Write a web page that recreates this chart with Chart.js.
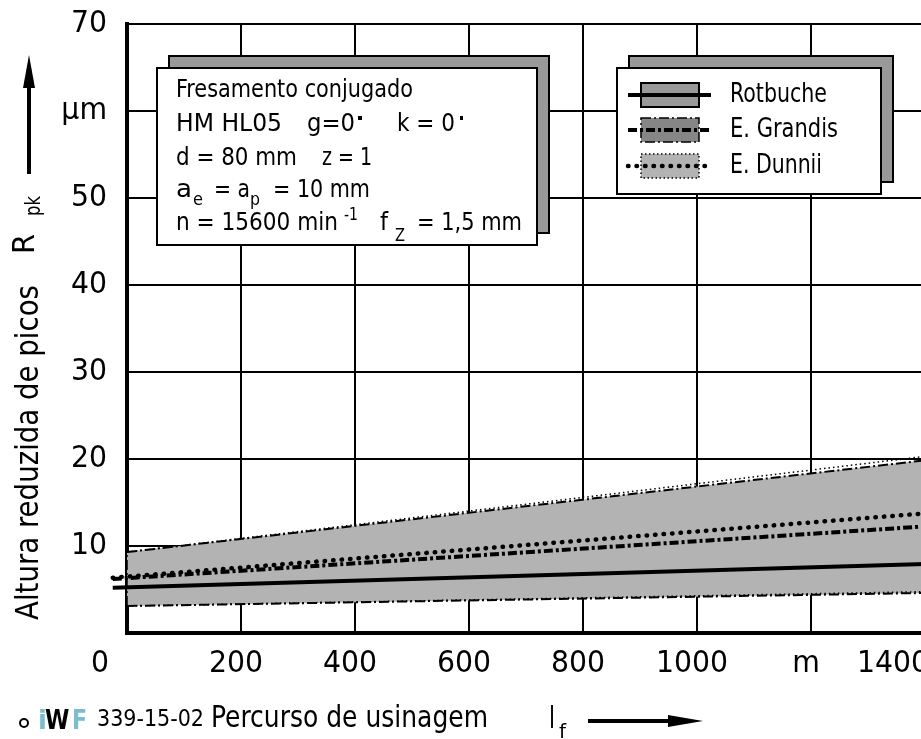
<!DOCTYPE html>
<html>
<head>
<meta charset="utf-8">
<script src="https://cdn.jsdelivr.net/npm/chart.js@4.4.0/dist/chart.umd.min.js"></script>
<style>
  html, body { margin:0; padding:0; background:#fff; overflow:hidden; }
  #wrap { position:relative; width:930px; height:739px; }
</style>
</head>
<body>
<div id="wrap"><canvas id="chart" width="930" height="739"></canvas></div>
<script>
// Rpk over machining path, mean lines and scatter band
const pathX       = [-25, 1400];          // m
const rotbuche    = [5.2, 7.92];          // µm
const grandis     = [6.2, 12.25];
const dunnii      = [6.35, 13.75];

const bandX       = [0, 1400];
const bandUpper   = [9.3, 19.85];
const bandLower   = [3.1, 4.6];
const dunniiUpper = [9.3, 20.3];
const dunniiLower = [3.1, 4.75];

const yTicks      = [10, 20, 30, 40, 50, 60, 70];
const yTickLabels = ['10', '20', '30', '40', '50', 'µm', '70'];
const xTicks      = [0, 200, 400, 600, 800, 1000, 1200, 1400];
const xTickLabels = ['0', '200', '400', '600', '800', '1000', 'm', '1400'];
const legendLabels = ['Rotbuche', 'E. Grandis', 'E. Dunnii'];

const FONT = '"Liberation Sans Narrow", "DejaVu Sans Condensed", sans-serif';
const DASHDOT = [9, 3, 3, 3];
const THIN_DASHDOT = [10, 3, 2, 3];
const DOTS = [0.5, 8];

const pts = (xs, ys) => xs.map((x, i) => ({ x, y: ys[i] }));

function txt(ctx, s, x, y, size, o = {}) {
  ctx.save();
  ctx.font = size + 'px ' + FONT;
  ctx.textBaseline = 'middle';
  ctx.textAlign = o.align || 'left';
  ctx.fillStyle = o.color || '#000';
  const w = ctx.measureText(s).width;
  const sx = o.w ? o.w / w : (o.sx || 1);
  ctx.translate(x, y);
  ctx.scale(sx, 1);
  ctx.fillText(s, 0, 0);
  ctx.restore();
}

function shadowBox(ctx, x, y, w, h) {
  ctx.save();
  ctx.lineWidth = 2;
  ctx.strokeStyle = '#000';
  ctx.fillStyle = '#999';
  ctx.fillRect(x + 12, y - 12, w, h);
  ctx.strokeRect(x + 12, y - 12, w, h);
  ctx.fillStyle = '#fff';
  ctx.fillRect(x, y, w, h);
  ctx.strokeRect(x, y, w, h);
  ctx.restore();
}

function seg(ctx, x1, y1, x2, y2, width, dash, cap) {
  ctx.save();
  ctx.beginPath();
  ctx.lineWidth = width;
  ctx.setLineDash(dash || []);
  ctx.lineCap = cap || 'butt';
  ctx.moveTo(x1, y1);
  ctx.lineTo(x2, y2);
  ctx.stroke();
  ctx.restore();
}

const decor = {
  id: 'decor',
  afterDraw(chart) {
    const { ctx, scales: { x, y }, chartArea: ca } = chart;
    ctx.save();
    ctx.fillStyle = '#000';
    ctx.strokeStyle = '#000';

    // y tick labels
    yTicks.forEach((v, i) => txt(ctx, yTickLabels[i], ca.left - 20, y.getPixelForValue(v), 30, { align: 'right', sx: 1.05 }));

    // x tick labels
    xTicks.forEach((v, i) => {
      let px = x.getPixelForValue(v) - 5;
      if (i === 0) px = ca.left - 27;
      if (i === xTicks.length - 1) px = 893;
      txt(ctx, xTickLabels[i], px, ca.bottom + 31, 30, { align: 'center', sx: 1.05 });
    });

    // y axis title
    ctx.save();
    ctx.translate(30, 620);
    ctx.rotate(-Math.PI / 2);
    txt(ctx, 'Altura reduzida de picos', 0, 0, 32, { w: 335 });
    txt(ctx, 'R', 366, -4, 30, { w: 20 });
    txt(ctx, 'pk', 404, 4, 22, { w: 20 });
    ctx.restore();
    seg(ctx, 29, 174, 29, 80, 4);
    ctx.beginPath();
    ctx.moveTo(29, 55); ctx.lineTo(35, 88); ctx.lineTo(23, 88); ctx.closePath(); ctx.fill();

    // x axis title and footer
    ctx.beginPath();
    ctx.lineWidth = 2;
    ctx.arc(24, 723, 4, 0, Math.PI * 2);
    ctx.stroke();
    ctx.save();
    ctx.font = 'bold 26px "DejaVu Sans", sans-serif';
    ctx.textBaseline = 'middle';
    ctx.fillStyle = '#7cbccc';
    ctx.fillText('i', 38, 722);
    ctx.fillStyle = '#000';
    ctx.save(); ctx.translate(45, 722); ctx.scale(0.85, 1); ctx.fillText('W', 0, 0); ctx.restore();
    ctx.fillStyle = '#7cbccc';
    ctx.save(); ctx.translate(72, 722); ctx.scale(0.85, 1); ctx.fillText('F', 0, 0); ctx.restore();
    ctx.restore();
    txt(ctx, '339-15-02', 97, 720, 23, { w: 107 });
    txt(ctx, 'Percurso de usinagem', 211, 719, 30, { w: 277 });
    txt(ctx, 'l', 549, 720, 30, { w: 6 });
    txt(ctx, 'f', 559, 733, 20, { w: 7 });
    seg(ctx, 588, 721, 672, 721, 4);
    ctx.beginPath();
    ctx.moveTo(703, 721); ctx.lineTo(668, 715); ctx.lineTo(668, 727); ctx.closePath(); ctx.fill();

    // parameter box
    shadowBox(ctx, 157, 68, 380, 177);
    const L = 176;
    txt(ctx, 'Fresamento conjugado', L, 90, 25, { w: 237 });
    txt(ctx, 'HM HL05', L, 124, 25, { w: 106 });
    txt(ctx, 'g=0', 307, 124, 25, { w: 48 });
    ctx.fillRect(358, 116, 4, 4);
    txt(ctx, 'k = 0', 397, 124, 25, { w: 58 });
    ctx.fillRect(460, 116, 3, 4);
    txt(ctx, 'd = 80 mm', L, 158, 25, { w: 121 });
    txt(ctx, 'z = 1', 322, 158, 25, { w: 50 });
    txt(ctx, 'a', L, 190, 25, { w: 16 });
    txt(ctx, 'e', 193, 200, 18, { w: 10 });
    txt(ctx, '= a', 214, 190, 25, { w: 36 });
    txt(ctx, 'p', 250, 200, 18, { w: 10 });
    txt(ctx, '= 10 mm', 273, 190, 25, { w: 97 });
    txt(ctx, 'n = 15600 min', L, 223, 25, { w: 162 });
    txt(ctx, '-1', 344, 215, 18, { w: 14 });
    txt(ctx, 'f', 380, 223, 25, { w: 8 });
    txt(ctx, 'Z', 395, 236, 18, { w: 10 });
    txt(ctx, '= 1,5 mm', 417, 223, 25, { w: 105 });

    // legend
    shadowBox(ctx, 617, 68, 264, 126);
    const rows = [95, 130, 166];
    const fills = ['#999', '#868686', '#b3b3b3'];
    const boxDash = [[], THIN_DASHDOT, [1.5, 2.5]];
    const lineDash = [[], DASHDOT, DOTS];
    const lineCap = ['butt', 'butt', 'round'];
    const lineW = [4, 4, 4.5];
    const textW = [97, 108, 92];
    rows.forEach((ry, i) => {
      ctx.save();
      ctx.fillStyle = fills[i];
      ctx.fillRect(641, ry - 12, 58, 24);
      ctx.lineWidth = i === 0 ? 2 : 1.5;
      ctx.setLineDash(boxDash[i]);
      ctx.strokeRect(641, ry - 12, 58, 24);
      ctx.restore();
      seg(ctx, 628, ry, 711, ry, lineW[i], lineDash[i], lineCap[i]);
      txt(ctx, legendLabels[i], 730, ry, 27, { w: textW[i] });
    });

    ctx.restore();
  }
};

new Chart(document.getElementById('chart'), {
  type: 'line',
  data: {
    datasets: [
      { label: 'lower', data: pts(bandX, bandLower), borderColor: '#000', borderWidth: 2, borderDash: THIN_DASHDOT, fill: false },
      { label: 'upper', data: pts(bandX, bandUpper), borderColor: '#000', borderWidth: 2, borderDash: THIN_DASHDOT, fill: '-1', backgroundColor: '#b3b3b3' },
      { label: 'dunniiLower', data: pts(bandX, dunniiLower), borderColor: '#000', borderWidth: 1.5, borderDash: [1.5, 3], fill: false },
      { label: 'dunniiUpper', data: pts(bandX, dunniiUpper), borderColor: '#000', borderWidth: 1.5, borderDash: [1.5, 3], fill: false },
      { label: 'edge', data: [{ x: bandX[0], y: bandLower[0] }, { x: bandX[0], y: bandUpper[0] }], borderColor: '#000', borderWidth: 1.5, borderDash: THIN_DASHDOT, fill: false },
      { label: legendLabels[0], data: pts(pathX, rotbuche), borderColor: '#000', borderWidth: 4, fill: false },
      { label: legendLabels[1], data: pts(pathX, grandis), borderColor: '#000', borderWidth: 4, borderDash: DASHDOT, fill: false },
      { label: legendLabels[2], data: pts(pathX, dunnii), borderColor: '#000', borderWidth: 4.5, borderDash: DOTS, borderCapStyle: 'round', fill: false }
    ]
  },
  options: {
    responsive: false,
    animation: false,
    devicePixelRatio: 1,
    clip: false,
    layout: { padding: { left: 127, right: 5, top: 24, bottom: 106 } },
    elements: { point: { radius: 0 }, line: { tension: 0 } },
    plugins: {
      legend: { display: false },
      tooltip: { enabled: false },
      filler: { drawTime: 'beforeDatasetsDraw' }
    },
    scales: {
      x: {
        type: 'linear', min: 0, max: 1400,
        ticks: { display: false, stepSize: 200 },
        grid: { color: '#000', lineWidth: 2, drawTicks: false },
        border: { color: '#000', width: 4 }
      },
      y: {
        min: 0, max: 70,
        ticks: { display: false, stepSize: 10 },
        grid: { color: '#000', lineWidth: 2, drawTicks: false },
        border: { color: '#000', width: 4 }
      }
    }
  },
  plugins: [decor]
});
</script>
</body>
</html>
